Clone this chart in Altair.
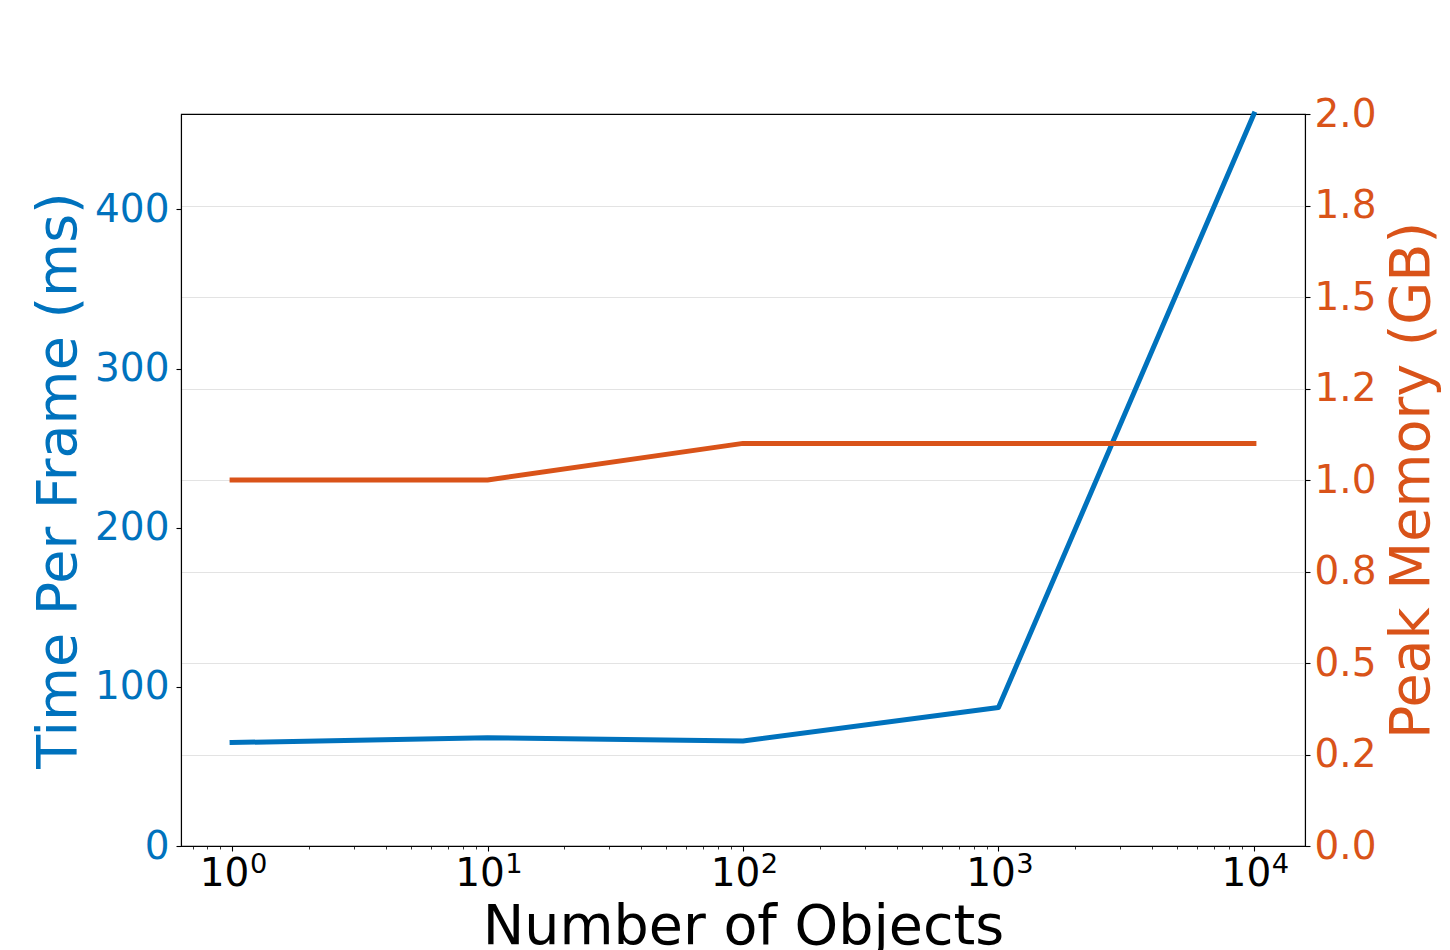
import altair as alt
import pandas as pd

# ---- data ----
num_objects = [1, 10, 100, 1000, 10000]
time_per_frame_ms = [65, 68, 66, 87, 460]
peak_memory_gb = [1.0, 1.0, 1.1, 1.1, 1.1]

x_major_values = [1, 10, 100, 1000, 10000]
x_label_base = "10"
x_label_exponents = ["0", "1", "2", "3", "4"]
x_minor_values = [0.7, 0.8, 0.9,
                  2, 3, 4, 5, 6, 7, 8, 9,
                  20, 30, 40, 50, 60, 70, 80, 90,
                  200, 300, 400, 500, 600, 700, 800, 900,
                  2000, 3000, 4000, 5000, 6000, 7000, 8000, 9000]

left_tick_values = [0, 100, 200, 300, 400]
right_tick_values = [0, 0.25, 0.5, 0.75, 1.0, 1.25, 1.5, 1.75, 2.0]
right_tick_labels = ["0.0", "0.2", "0.5", "0.8", "1.0", "1.2", "1.5", "1.8", "2.0"]

x_domain = [10 ** -0.2, 10 ** 4.2]
left_domain = [0, 460]
right_domain = [0, 2.0]

BLUE = "#0072BD"
ORANGE = "#D95319"
FONT = "DejaVu Sans"
TICK_FS = 39
SUP_FS = 27.3
TITLE_FS = 55.5

W, H = 1124, 732

df = pd.DataFrame({
    "objects": num_objects,
    "time": time_per_frame_ms,
    "memory": peak_memory_gb,
})

major_list = "[" + ",".join(str(v) for v in x_major_values) + "]"
is_major = f"indexof({major_list}, datum.value) >= 0"
x_base_expr = f"{is_major} ? '{x_label_base}' : ''"
x_exp_expr = " : ".join(
    f"datum.value == {v} ? '{e}'" for v, e in zip(x_major_values, x_label_exponents)
) + " : ''"

right_label_expr = "[" + ",".join(f"'{l}'" for l in right_tick_labels) + "][round(datum.value * 4)]"
edge_test = f"datum.value == {right_domain[0]} || datum.value == {right_domain[1]}"

x_scale = alt.Scale(type="log", domain=x_domain, nice=False, zero=False)

x_main = alt.X(
    "objects:Q",
    scale=x_scale,
    axis=alt.Axis(
        title="Number of Objects",
        orient="bottom",
        values=sorted(x_major_values + x_minor_values),
        labelExpr=x_base_expr,
        tickSize={"condition": {"test": is_major, "value": 5}, "value": 3},
        tickWidth={"condition": {"test": is_major, "value": 1.1}, "value": 0.8},
        labelPadding=3,
        labelOffset=-8,
        labelFlush=False,
        labelOverlap=False,
        labelFont=FONT,
        labelFontSize=TICK_FS,
        labelColor="black",
        titleFont=FONT,
        titleFontSize=TITLE_FS,
        titleFontWeight="normal",
        titleColor="black",
        titleX=W / 2,
        titleY=97,
        titleBaseline="alphabetic",
        titleAlign="center",
        grid=False,
    ),
)

x_sup = alt.X(
    "objects:Q",
    scale=x_scale,
    axis=alt.Axis(
        title=None,
        orient="bottom",
        values=x_major_values,
        labelExpr=x_exp_expr,
        domain=False,
        ticks=True,
        tickSize=0,
        tickOpacity=0,
        labelPadding=4,
        labelOffset=26,
        labelFlush=False,
        labelOverlap=False,
        labelFont=FONT,
        labelFontSize=SUP_FS,
        labelColor="black",
        grid=False,
    ),
)

time_line = alt.Chart(df).mark_line(
    color=BLUE, strokeWidth=5, strokeCap="square", strokeJoin="round"
).encode(
    x=x_main,
    y=alt.Y(
        "time:Q",
        scale=alt.Scale(domain=left_domain, nice=False, zero=True),
        axis=alt.Axis(
            title="Time Per Frame (ms)",
            orient="left",
            values=left_tick_values,
            format="d",
            tickSize=5,
            tickWidth=1.1,
            labelPadding=7,
            labelFont=FONT,
            labelFontSize=TICK_FS,
            labelColor=BLUE,
            titleFont=FONT,
            titleFontSize=TITLE_FS,
            titleFontWeight="normal",
            titleColor=BLUE,
            titleAngle=270,
            titleX=-106,
            titleY=H / 2,
            titleBaseline="alphabetic",
            titleAlign="center",
            grid=False,
        ),
    ),
)

memory_line = alt.Chart(df).mark_line(
    color=ORANGE, strokeWidth=5, strokeCap="square", strokeJoin="round"
).encode(
    x=x_sup,
    y=alt.Y(
        "memory:Q",
        scale=alt.Scale(domain=right_domain, nice=False, zero=True),
        axis=alt.Axis(
            title="Peak Memory (GB)",
            orient="right",
            values=right_tick_values,
            labelExpr=right_label_expr,
            tickSize=5,
            tickWidth=1.1,
            labelPadding=4,
            labelFont=FONT,
            labelFontSize=TICK_FS,
            labelColor=ORANGE,
            titleFont=FONT,
            titleFontSize=TITLE_FS,
            titleFontWeight="normal",
            titleColor=ORANGE,
            titleAngle=270,
            titleX=123,
            titleY=H / 2,
            titleBaseline="alphabetic",
            titleAlign="center",
            grid=True,
            gridColor="#e3e3e3",
            gridWidth=1,
            gridOpacity={"condition": {"test": edge_test, "value": 0}, "value": 1},
        ),
    ),
)

chart = alt.layer(time_line, memory_line).resolve_scale(
    y="independent", x="shared"
).resolve_axis(
    x="independent", y="independent"
).properties(
    width=W,
    height=H,
    autosize=alt.AutoSizeParams(type="none"),
    padding={"left": 173, "top": 106, "right": 137, "bottom": 104},
    background="white",
).configure(
    font=FONT
).configure_view(
    stroke="black", strokeWidth=1.1
).configure_axis(
    domainColor="black",
    domainWidth=1.1,
    tickColor="black",
)

chart.save("out.html", embed_options={"renderer": "svg", "actions": False})
